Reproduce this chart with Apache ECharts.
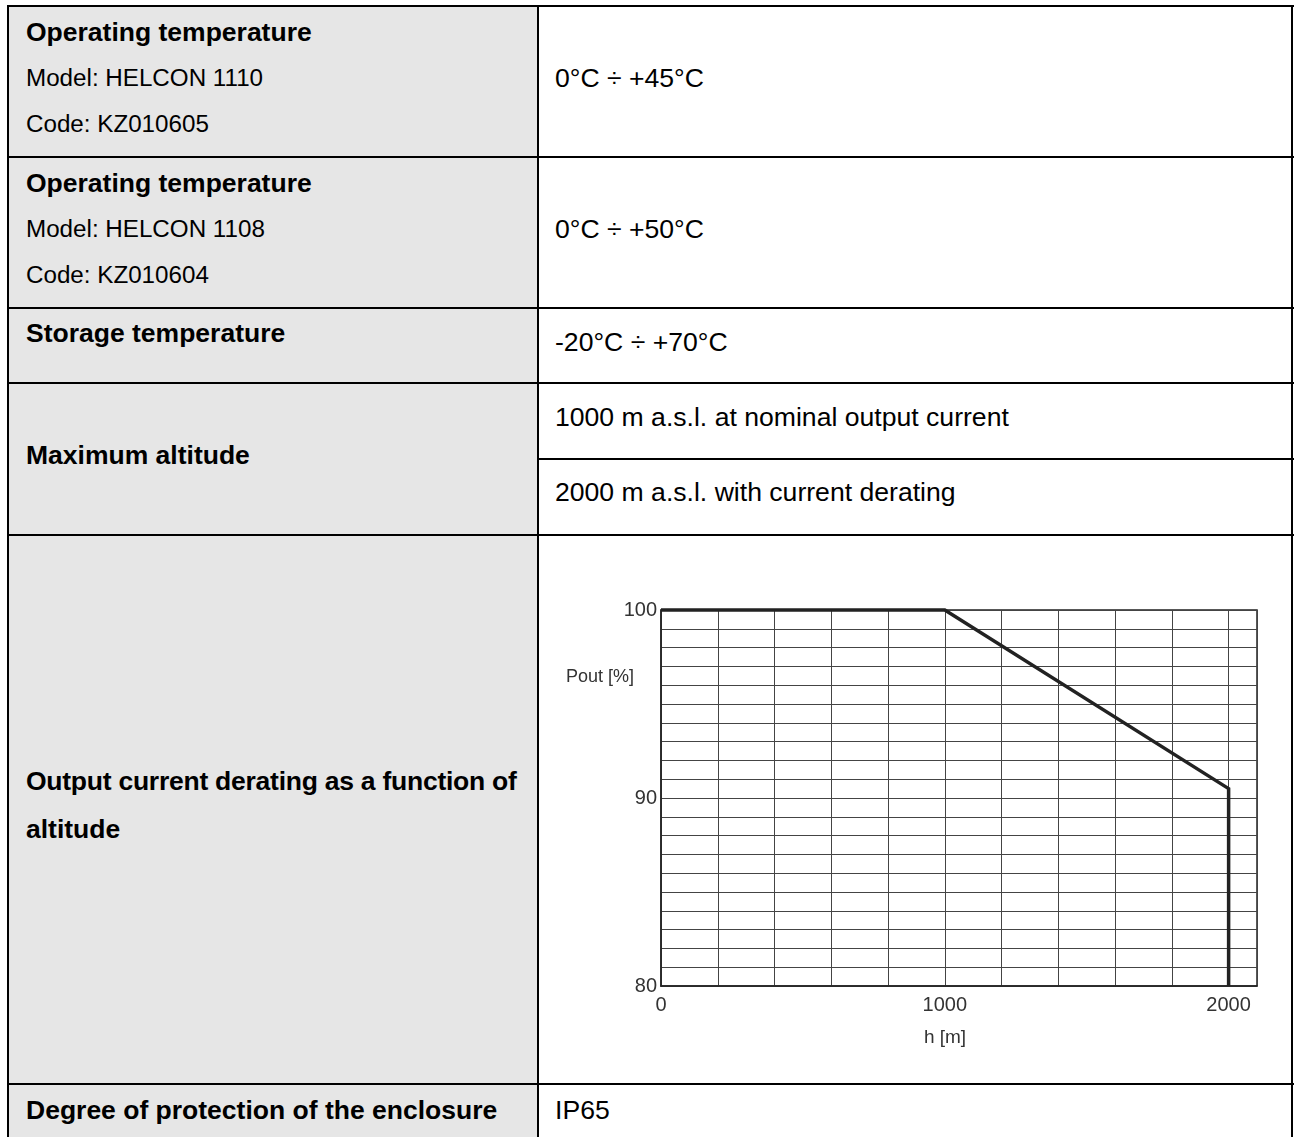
<!DOCTYPE html>
<html>
<head>
<meta charset="utf-8">
<script src="https://cdn.jsdelivr.net/npm/echarts@6/dist/echarts.min.js"></script>
<style>
  html, body { margin: 0; padding: 0; background: #fff; width: 1295px; height: 1137px; overflow: hidden; }
  body { position: relative; font-family: "Liberation Sans", Arial, sans-serif; color: #000; }
  .abs { position: absolute; }
  .hl { position: absolute; height: 2px; background: #000; }
  .vl { position: absolute; width: 2px; background: #000; }
  .t { position: absolute; line-height: 30px; white-space: nowrap; }
  .b { font-weight: bold; font-size: 26.5px; }
  .s { font-size: 24.2px; }
  .r { font-size: 26.6px; }
  #chart { position: absolute; left: 540px; top: 537px; width: 751px; height: 546px; }
</style>
</head>
<body>
  <div class="abs" style="left:9px;top:7px;width:529px;height:1130px;background:#e6e6e6;"></div>

  <div class="hl" style="left:7px;top:5px;width:1287px;"></div>
  <div class="hl" style="left:7px;top:156px;width:1287px;"></div>
  <div class="hl" style="left:7px;top:307px;width:1287px;"></div>
  <div class="hl" style="left:7px;top:382px;width:1287px;"></div>
  <div class="hl" style="left:538px;top:458px;width:756px;"></div>
  <div class="hl" style="left:7px;top:534px;width:1287px;"></div>
  <div class="hl" style="left:7px;top:1083px;width:1287px;"></div>
  <div class="vl" style="left:7px;top:5px;height:1132px;"></div>
  <div class="vl" style="left:537px;top:5px;height:1132px;"></div>
  <div class="vl" style="left:1291px;top:5px;height:1132px;"></div>

  <div class="t b" style="left:26px;top:17px;">Operating temperature</div>
  <div class="t s" style="left:26px;top:63px;">Model: HELCON 1110</div>
  <div class="t s" style="left:26px;top:109px;">Code: KZ010605</div>
  <div class="t r" style="left:555px;top:63px;">0°C ÷ +45°C</div>

  <div class="t b" style="left:26px;top:168px;">Operating temperature</div>
  <div class="t s" style="left:26px;top:214px;">Model: HELCON 1108</div>
  <div class="t s" style="left:26px;top:260px;">Code: KZ010604</div>
  <div class="t r" style="left:555px;top:214px;">0°C ÷ +50°C</div>

  <div class="t b" style="left:26px;top:318px;">Storage temperature</div>
  <div class="t r" style="left:555px;top:327px;">-20°C ÷ +70°C</div>

  <div class="t b" style="left:26px;top:440px;">Maximum altitude</div>
  <div class="t r" style="left:555px;top:402px;">1000 m a.s.l. at nominal output current</div>
  <div class="t r" style="left:555px;top:477px;">2000 m a.s.l. with current derating</div>

  <div class="t b" style="left:26px;top:766px;letter-spacing:-0.25px;">Output current derating as a function of</div>
  <div class="t b" style="left:26px;top:814px;">altitude</div>

  <div class="t b" style="left:26px;top:1095px;">Degree of protection of the enclosure</div>
  <div class="t r" style="left:555px;top:1095px;">IP65</div>

  <div id="chart"></div>

<script>
const altitude = [0, 1000, 2000, 2000];
const pout = [100, 100, 90.5, 80];
const xTickLabels = [0, 1000, 2000];
const yTickLabels = [80, 90, 100];
const yAxisName = 'Pout [%]';
const xAxisName = 'h [m]';

const chart = echarts.init(document.getElementById('chart'), null, { renderer: 'canvas' });
const font = '"Liberation Sans", Arial, sans-serif';
chart.setOption({
  animation: false,
  grid: { left: 121, top: 73, width: 596, height: 376, show: true, borderColor: '#222', borderWidth: 1.5, backgroundColor: 'transparent' },
  xAxis: {
    type: 'value', min: 0, max: 2100, interval: 200,
    axisLine: { show: true, lineStyle: { color: '#222', width: 1.5 } },
    axisTick: { show: false },
    splitLine: { show: true, lineStyle: { color: '#444', width: 1 } },
    axisLabel: {
      color: '#333', fontSize: 20, fontFamily: font, margin: 9,
      showMinLabel: true, showMaxLabel: true,
      formatter: v => xTickLabels.includes(v) ? String(v) : ''
    }
  },
  yAxis: {
    type: 'value', min: 80, max: 100, interval: 1,
    axisLine: { show: true, lineStyle: { color: '#222', width: 1.5 } },
    axisTick: { show: false },
    splitLine: { show: true, lineStyle: { color: '#444', width: 1 } },
    axisLabel: {
      color: '#333', fontSize: 20, fontFamily: font, margin: 4,
      showMinLabel: true, showMaxLabel: true,
      formatter: v => yTickLabels.includes(v) ? String(v) : ''
    }
  },
  graphic: [
    { type: 'text', x: 60, y: 140, style: { text: yAxisName, fill: '#333', font: '18px ' + font, textAlign: 'center', textVerticalAlign: 'middle' } },
    { type: 'text', x: 405, y: 501, style: { text: xAxisName, fill: '#333', font: '19px ' + font, textAlign: 'center', textVerticalAlign: 'middle' } }
  ],
  series: [{
    type: 'line',
    data: altitude.map((h, i) => [h, pout[i]]),
    symbol: 'none',
    clip: false,
    lineStyle: { color: '#222', width: 3.5, join: 'miter' },
    z: 10
  }]
});
</script>
</body>
</html>
